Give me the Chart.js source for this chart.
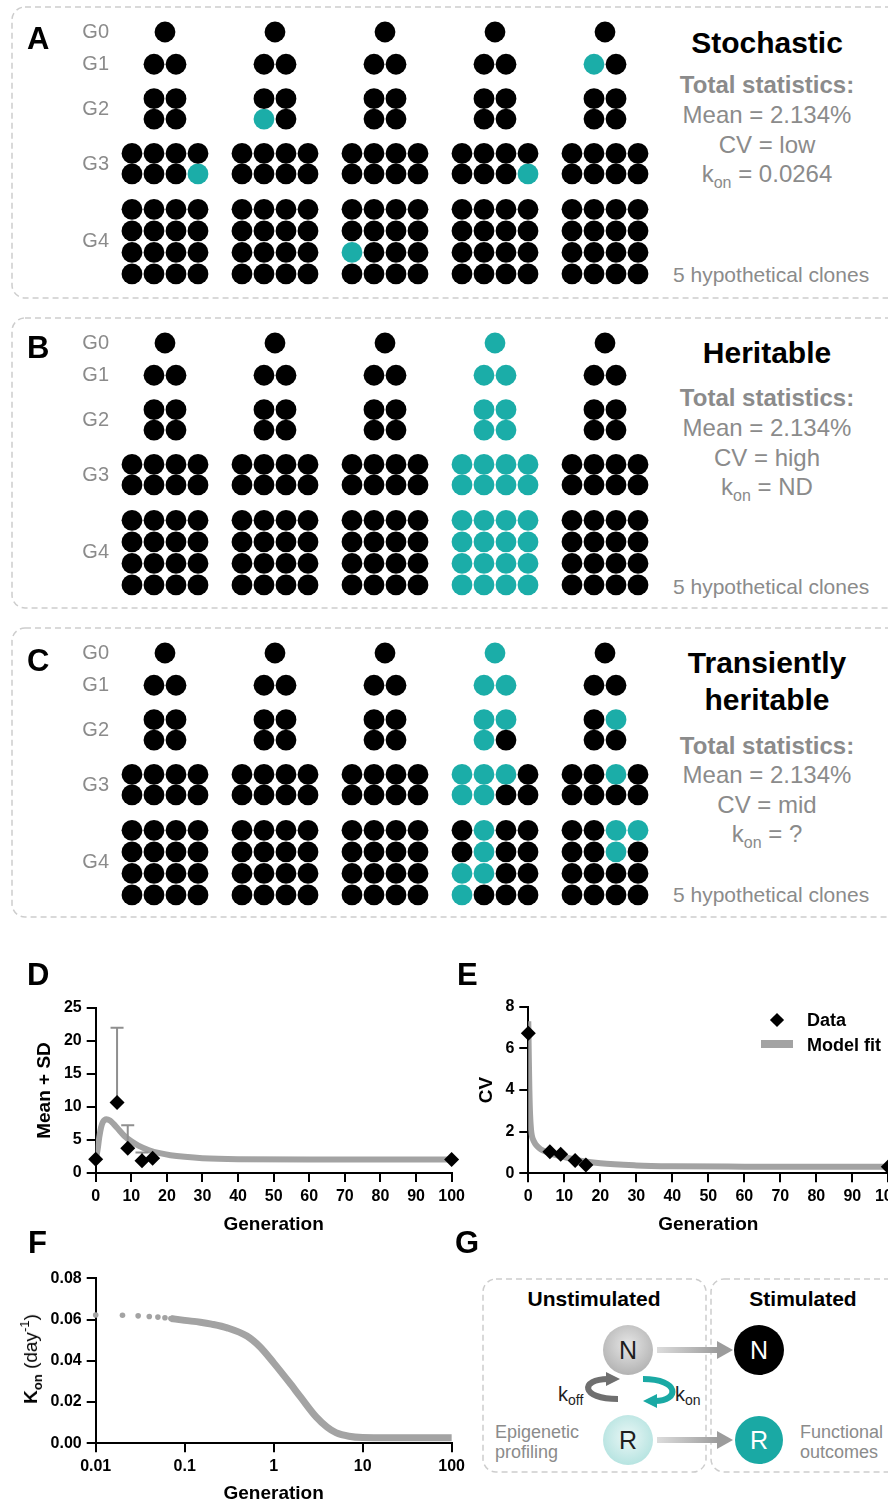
<!DOCTYPE html>
<html>
<head>
<meta charset="utf-8">
<title>Clonal heritability</title>
<script src="https://cdn.jsdelivr.net/npm/chart.js@4.4.1/dist/chart.umd.min.js"></script>
<style>
  html, body { margin: 0; padding: 0; background: #fff; }
  #page { position: relative; width: 888px; height: 1505px; overflow: hidden; font-family: "Liberation Sans", Arial, sans-serif; }
  #page canvas, #page svg { position: absolute; display: block; }
  .letter { position: absolute; font-size: 31px; line-height: 30px; font-weight: bold; color: #000; }
  .side { position: absolute; left: 667px; width: 200px; text-align: center; color: #8b8b8b; font-size: 24px; line-height: 30px; white-space: nowrap; }
  .side.head { color: #000; font-weight: bold; font-size: 30px; }
  .side.bold { font-weight: bold; }
  .side sub { font-size: 16px; vertical-align: -6px; line-height: 0; }
  .clones { position: absolute; left: 673px; color: #8b8b8b; font-size: 21px; line-height: 24px; white-space: nowrap; }
  .leg { position: absolute; left: 807px; font-size: 18px; line-height: 22px; font-weight: bold; white-space: nowrap; }
  .ytitle { position: absolute; white-space: nowrap; font-size: 19px; line-height: 22px; transform: translate(-50%, -50%) rotate(-90deg); }
  .ytitle span { font-size: 13px; line-height: 0; }
</style>
</head>
<body>
<div id="page">
  <svg width="888" height="1505" viewBox="0 0 888 1505">
    <defs>
      <radialGradient id="gN" cx="50%" cy="40%" r="60%">
        <stop offset="0" stop-color="#e6e6e6"/><stop offset="1" stop-color="#b3b3b3"/>
      </radialGradient>
      <radialGradient id="gR" cx="50%" cy="45%" r="60%">
        <stop offset="0" stop-color="#eaf7f6"/><stop offset="1" stop-color="#b2e2df"/>
      </radialGradient>
      <linearGradient id="gArr" x1="0" x2="1" y1="0" y2="0">
        <stop offset="0" stop-color="#dcdcdc"/><stop offset="1" stop-color="#9c9c9c"/>
      </linearGradient>
    </defs>
    <g fill="none" stroke="#cdcdcd" stroke-width="1.5" stroke-dasharray="6 4">
      <rect x="12" y="7" width="900" height="291" rx="13"/>
      <rect x="12" y="318" width="900" height="290" rx="13"/>
      <rect x="12" y="628" width="900" height="289" rx="13"/>
      <rect x="483" y="1279" width="223" height="193" rx="13"/>
      <rect x="711" y="1279" width="200" height="193" rx="13"/>
    </g>
    <g font-family="Liberation Sans, Arial, sans-serif">
      <text x="594" y="1306" text-anchor="middle" font-size="21" font-weight="bold">Unstimulated</text>
      <text x="803" y="1306" text-anchor="middle" font-size="21" font-weight="bold">Stimulated</text>
      <rect x="657" y="1347" width="62" height="6" fill="url(#gArr)"/>
      <polygon points="717,1341 733,1350 717,1359" fill="#9c9c9c"/>
      <rect x="657" y="1437" width="62" height="6" fill="url(#gArr)"/>
      <polygon points="717,1431 733,1440 717,1449" fill="#9c9c9c"/>
      <circle cx="628" cy="1350" r="25" fill="url(#gN)"/>
      <text x="628" y="1359" text-anchor="middle" font-size="25" fill="#1e1e1e">N</text>
      <circle cx="759" cy="1350" r="25" fill="#000"/>
      <text x="759" y="1359" text-anchor="middle" font-size="25" fill="#fff">N</text>
      <circle cx="628" cy="1440" r="25" fill="url(#gR)"/>
      <text x="628" y="1449" text-anchor="middle" font-size="25" fill="#1e1e1e">R</text>
      <circle cx="759" cy="1440" r="24" fill="#1aa9a4"/>
      <text x="759" y="1449" text-anchor="middle" font-size="25" fill="#fff">R</text>
      <path d="M 618 1399 C 580 1399, 580 1379, 608 1379" fill="none" stroke="#6f6f6f" stroke-width="6"/>
      <polygon points="606,1372 620,1379 606,1386" fill="#6f6f6f"/>
      <path d="M 643 1379 C 680 1379, 680 1401, 655 1401" fill="none" stroke="#1aa9a4" stroke-width="6"/>
      <polygon points="657,1394 643,1401 657,1408" fill="#1aa9a4"/>
      <text x="558" y="1401" font-size="20" fill="#1e1e1e">k<tspan font-size="14" dy="4">off</tspan></text>
      <text x="675" y="1401" font-size="20" fill="#1e1e1e">k<tspan font-size="14" dy="4">on</tspan></text>
      <text x="495" y="1438" font-size="18" fill="#8b8b8b">Epigenetic</text>
      <text x="495" y="1458" font-size="18" fill="#8b8b8b">profiling</text>
      <text x="800" y="1438" font-size="18" fill="#8b8b8b">Functional</text>
      <text x="800" y="1458" font-size="18" fill="#8b8b8b">outcomes</text>
    </g>
  </svg>

  <canvas id="dotsA" width="660" height="300" style="left:0;top:0"></canvas>
  <canvas id="dotsB" width="660" height="300" style="left:0;top:311px"></canvas>
  <canvas id="dotsC" width="660" height="300" style="left:0;top:621px"></canvas>
  <canvas id="meanChart" width="470" height="250" style="left:0;top:990px"></canvas>
  <canvas id="cvChart" width="480" height="250" style="left:440px;top:990px"></canvas>
  <canvas id="konChart" width="470" height="265" style="left:0;top:1240px"></canvas>

  <div class="letter" style="left:27px;top:24px">A</div>
  <div class="letter" style="left:27px;top:333px">B</div>
  <div class="letter" style="left:27px;top:646px">C</div>
  <div class="letter" style="left:27px;top:960px">D</div>
  <div class="letter" style="left:457px;top:960px">E</div>
  <div class="letter" style="left:28px;top:1228px">F</div>
  <div class="letter" style="left:455px;top:1228px">G</div>

  <div class="side head" style="top:28px">Stochastic</div>
  <div class="side bold" style="top:70px">Total statistics:</div>
  <div class="side" style="top:100px">Mean = 2.134%</div>
  <div class="side" style="top:130px">CV = low</div>
  <div class="side" style="top:159px">k<sub>on</sub> = 0.0264</div>
  <div class="clones" style="top:263px">5 hypothetical clones</div>

  <div class="side head" style="top:338px">Heritable</div>
  <div class="side bold" style="top:383px">Total statistics:</div>
  <div class="side" style="top:413px">Mean = 2.134%</div>
  <div class="side" style="top:443px">CV = high</div>
  <div class="side" style="top:472px">k<sub>on</sub> = ND</div>
  <div class="clones" style="top:575px">5 hypothetical clones</div>

  <div class="side head" style="top:648px">Transiently</div>
  <div class="side head" style="top:685px">heritable</div>
  <div class="side bold" style="top:731px">Total statistics:</div>
  <div class="side" style="top:760px">Mean = 2.134%</div>
  <div class="side" style="top:790px">CV = mid</div>
  <div class="side" style="top:819px">k<sub>on</sub> = ?</div>
  <div class="clones" style="top:883px">5 hypothetical clones</div>

  <div style="position:absolute;left:772px;top:1015px;width:10px;height:10px;background:#000;transform:rotate(45deg)"></div>
  <div style="position:absolute;left:761px;top:1040px;width:32px;height:8px;background:#a3a3a3"></div>
  <div class="leg" style="top:1009px">Data</div>
  <div class="leg" style="top:1034px">Model fit</div>

  <div class="ytitle" style="left:31px;top:1359px"><b>K<span style="vertical-align:-5px">on</span></b> (day<span style="vertical-align:8px">-1</span>)</div>
</div>

<script>
Chart.defaults.font.family = '"Liberation Sans", Arial, sans-serif';
Chart.defaults.color = '#000';

const TEAL = '#1bada8';
const GRAY_TEXT = '#8b8b8b';
const FIT_GRAY = '#a3a3a3';

// panels A-C: one string per row (G0, G1, G2 x2, G3 x2, G4 x4), 1 = teal cell
const genLabels = ['G0', 'G1', 'G2', 'G3', 'G4'];

const stochasticClones = [
    ['0', '00', '00', '00', '0000', '0001', '0000', '0000', '0000', '0000'],
    ['0', '00', '00', '10', '0000', '0000', '0000', '0000', '0000', '0000'],
    ['0', '00', '00', '00', '0000', '0000', '0000', '0000', '1000', '0000'],
    ['0', '00', '00', '00', '0000', '0001', '0000', '0000', '0000', '0000'],
    ['0', '10', '00', '00', '0000', '0000', '0000', '0000', '0000', '0000'],
];

const heritableClones = [
    ['0', '00', '00', '00', '0000', '0000', '0000', '0000', '0000', '0000'],
    ['0', '00', '00', '00', '0000', '0000', '0000', '0000', '0000', '0000'],
    ['0', '00', '00', '00', '0000', '0000', '0000', '0000', '0000', '0000'],
    ['1', '11', '11', '11', '1111', '1111', '1111', '1111', '1111', '1111'],
    ['0', '00', '00', '00', '0000', '0000', '0000', '0000', '0000', '0000'],
];

const transientClones = [
    ['0', '00', '00', '00', '0000', '0000', '0000', '0000', '0000', '0000'],
    ['0', '00', '00', '00', '0000', '0000', '0000', '0000', '0000', '0000'],
    ['0', '00', '00', '00', '0000', '0000', '0000', '0000', '0000', '0000'],
    ['1', '11', '11', '10', '1110', '1100', '0100', '0100', '1100', '1000'],
    ['0', '00', '01', '00', '0010', '0000', '0011', '0010', '0000', '0000'],
];

// panels D and E: measured points
const dataGen = [0, 6, 9, 13, 16, 100];
const meanPct = [2.1, 10.7, 3.75, 1.85, 2.25, 2.05];
const sdPct = [0, 11.3, 3.5, 1.25, 0, 0];
const cvValues = [6.72, 1.04, 0.91, 0.61, 0.4, 0.32];

// model fits
const fitGenD = [0, 0.5, 1, 1.5, 2, 3, 4, 5, 6, 8, 10, 12, 15, 18, 21, 25, 30, 40, 60, 100];
const fitMean = [2.0, 3.4, 5.4, 6.9, 7.7, 8.15, 7.95, 7.45, 6.85, 5.65, 4.8, 4.15, 3.45, 3.0, 2.7, 2.45, 2.25, 2.1, 2.05, 2.05];
const fitGenE = [0, 0.15, 0.3, 0.5, 0.75, 1, 1.5, 2, 3, 4, 6, 8, 10, 14, 20, 30, 40, 60, 100];
const fitCv = [7.3, 5.5, 4.0, 2.8, 2.1, 1.8, 1.55, 1.4, 1.22, 1.1, 0.96, 0.86, 0.78, 0.62, 0.48, 0.38, 0.34, 0.32, 0.31];

// panel F: k_on versus generation
const konDotGen = [0.01, 0.02, 0.03, 0.04, 0.05, 0.06, 0.07, 0.08, 0.09];
const konDotVal = [0.0622, 0.0621, 0.0618, 0.0615, 0.0612, 0.0609, 0.0605, 0.0602, 0.0599];
const konGen = [0.07, 0.1, 0.15, 0.2, 0.3, 0.5, 0.7, 1, 1.5, 2, 3, 4, 5, 7, 10, 20, 50, 100];
const konVal = [0.0605, 0.0596, 0.0587, 0.0578, 0.056, 0.052, 0.0468, 0.039, 0.0295, 0.0225, 0.0128, 0.0078, 0.0052, 0.0034, 0.0028, 0.0027, 0.0027, 0.0027];
const logTicks = [0.01, 0.1, 1, 10, 100];

// layout of the dot pyramids (row units)
const ROW_POS = [0, 1.5, 3.1, 4.05, 5.65, 6.6, 8.25, 9.25, 10.25, 11.25];
const GEN_LABEL_POS = [0, 1.5, 3.6, 6.15, 9.75];
const CELL_STEP = 0.2;

const pairs = (xs, ys) => xs.map((x, i) => ({ x: x, y: ys[i] }));

// draws the upper SD whisker of a dataset that carries errorUp
const errorBars = {
    id: 'errorBars',
    beforeDatasetDraw(chart, args) {
        const ds = chart.data.datasets[args.index];
        if (!ds.errorUp) return;
        const { ctx } = chart;
        const xs = chart.scales.x, ys = chart.scales.y;
        ctx.save();
        ctx.strokeStyle = '#8f8f8f';
        ctx.lineWidth = 2;
        ds.data.forEach((p, i) => {
            const sd = ds.errorUp[i];
            if (!sd) return;
            const px = xs.getPixelForValue(p.x);
            const y0 = ys.getPixelForValue(p.y);
            const y1 = ys.getPixelForValue(p.y + sd);
            ctx.beginPath();
            ctx.moveTo(px, y0);
            ctx.lineTo(px, y1);
            ctx.moveTo(px - 6.5, y1);
            ctx.lineTo(px + 6.5, y1);
            ctx.stroke();
        });
        ctx.restore();
    },
};

function dotPanel(id, clones) {
    const black = [], teal = [];
    clones.forEach((rows, clone) => {
        rows.forEach((row, r) => {
            [...row].forEach((state, j) => {
                const p = { x: clone + (j - (row.length - 1) / 2) * CELL_STEP, y: ROW_POS[r] };
                (state === '1' ? teal : black).push(p);
            });
        });
    });
    return new Chart(document.getElementById(id), {
        type: 'scatter',
        data: {
            datasets: [
                { label: 'N', data: black, backgroundColor: '#000', pointRadius: 10.4, borderWidth: 0, clip: false },
                { label: 'R', data: teal, backgroundColor: TEAL, pointRadius: 10.4, borderWidth: 0, clip: false },
            ],
        },
        options: {
            responsive: false, animation: false, events: [],
            layout: { padding: 0, autoPadding: false },
            plugins: { legend: { display: false }, tooltip: { enabled: false } },
            scales: {
                x: { type: 'linear', display: false, min: -0.409, max: 4.5 },
                y: {
                    type: 'linear', reverse: true, min: -1.488, max: 12.465,
                    afterFit: (s) => { s.width = 120; s.paddingTop = 0; s.paddingBottom = 0; },
                    afterBuildTicks: (s) => { s.ticks = GEN_LABEL_POS.map((v) => ({ value: v })); },
                    grid: { display: false, drawTicks: false },
                    border: { display: false },
                    ticks: { color: GRAY_TEXT, font: { size: 20 }, padding: 11, callback: (v, i) => genLabels[i] },
                },
            },
        },
    });
}

function axis(extra) {
    const ticks = Object.assign({ color: '#000', font: { size: 16, weight: 'bold' }, padding: 5, maxRotation: 0, autoSkip: false }, extra.ticks || {});
    return Object.assign({
        border: { color: '#000', width: 2 },
        grid: { drawOnChartArea: false, color: '#000', lineWidth: 2, tickLength: 9 },
    }, extra, { ticks: ticks });
}

function genTitle(bottomPad) {
    return { display: true, text: 'Generation', color: '#000', font: { size: 19, weight: 'bold' }, padding: { top: 0, bottom: bottomPad } };
}

const baseOptions = {
    responsive: false, animation: false, events: [],
    plugins: { legend: { display: false }, tooltip: { enabled: false } },
};

dotPanel('dotsA', stochasticClones);
dotPanel('dotsB', heritableClones);
dotPanel('dotsC', transientClones);

// D: mean + SD
new Chart(document.getElementById('meanChart'), {
    type: 'scatter',
    data: {
        datasets: [
            { label: 'Data', data: pairs(dataGen, meanPct), errorUp: sdPct, pointStyle: 'rectRot', pointRadius: 7.5, backgroundColor: '#000', borderWidth: 0, clip: false },
            { label: 'Model fit', data: pairs(fitGenD, fitMean), showLine: true, borderColor: FIT_GRAY, borderWidth: 6, pointRadius: 0, cubicInterpolationMode: 'monotone' },
        ],
    },
    plugins: [errorBars],
    options: Object.assign({}, baseOptions, {
        layout: { padding: { top: 18, right: 14.3, left: 0, bottom: 0 }, autoPadding: false },
        scales: {
            x: axis({ type: 'linear', min: 0, max: 100, afterFit: (s) => { s.height = 67; }, ticks: { stepSize: 10 }, title: genTitle(3.6) }),
            y: axis({
                type: 'linear', min: 0, max: 25, afterFit: (s) => { s.width = 95.7; }, ticks: { stepSize: 5 },
                title: { display: true, text: 'Mean + SD', color: '#000', font: { size: 19, weight: 'bold' }, padding: { top: 33.6, bottom: 0 } },
            }),
        },
    }),
});

// E: CV
new Chart(document.getElementById('cvChart'), {
    type: 'scatter',
    data: {
        datasets: [
            { label: 'Data', data: pairs(dataGen, cvValues), pointStyle: 'rectRot', pointRadius: 7.5, backgroundColor: '#000', borderWidth: 0, clip: false },
            { label: 'Model fit', data: pairs(fitGenE, fitCv), showLine: true, borderColor: FIT_GRAY, borderWidth: 6, pointRadius: 0, cubicInterpolationMode: 'monotone' },
        ],
    },
    options: Object.assign({}, baseOptions, {
        layout: { padding: { top: 16.7, right: 31.7, left: 0, bottom: 0 }, autoPadding: false },
        scales: {
            x: axis({ type: 'linear', min: 0, max: 100, afterFit: (s) => { s.height = 66.7; }, ticks: { stepSize: 10 }, title: genTitle(3.6) }),
            y: axis({
                type: 'linear', min: 0, max: 8, afterFit: (s) => { s.width = 88.3; }, ticks: { stepSize: 2 },
                title: { display: true, text: 'CV', color: '#000', font: { size: 19, weight: 'bold' }, padding: { top: 35.6, bottom: 0 } },
            }),
        },
    }),
});

// F: k_on over generations (log axis)
new Chart(document.getElementById('konChart'), {
    type: 'scatter',
    data: {
        datasets: [
            { label: 'k_on', data: pairs(konDotGen, konDotVal), backgroundColor: FIT_GRAY, pointRadius: 2.8, borderWidth: 0, clip: false },
            { label: 'k_on fit', data: pairs(konGen, konVal), showLine: true, borderColor: FIT_GRAY, borderWidth: 7, pointRadius: 0, cubicInterpolationMode: 'monotone', clip: false },
        ],
    },
    options: Object.assign({}, baseOptions, {
        layout: { padding: { top: 38.3, right: 14, left: 0, bottom: 0 }, autoPadding: false },
        scales: {
            x: axis({
                type: 'logarithmic', min: 0.01, max: 100, afterFit: (s) => { s.height = 61.7; },
                afterBuildTicks: (s) => { s.ticks = logTicks.map((v) => ({ value: v })); },
                ticks: { callback: (v) => String(v) }, title: genTitle(0),
            }),
            y: axis({
                type: 'linear', min: 0, max: 0.08, afterFit: (s) => { s.width = 95.7; },
                ticks: { stepSize: 0.02, callback: (v) => v.toFixed(2) },
            }),
        },
    }),
});
</script>
</body>
</html>
